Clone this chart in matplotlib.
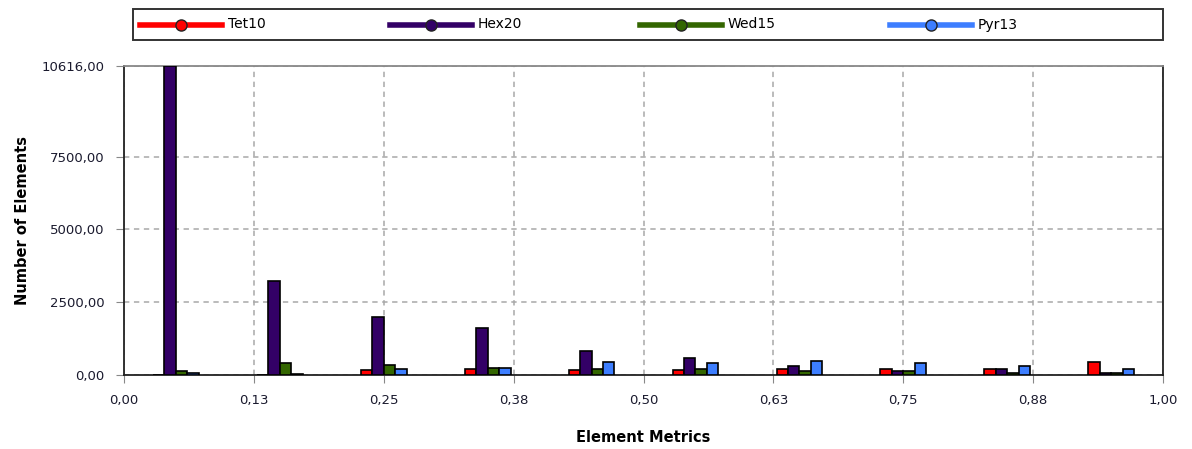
import numpy as np
import matplotlib.pyplot as plt
from matplotlib.lines import Line2D
from matplotlib.patches import Rectangle
from matplotlib.ticker import FixedLocator, FuncFormatter

# element quality histogram, 10 bins over [0, 1]
bin_centers = [0.05, 0.15, 0.25, 0.35, 0.45, 0.55, 0.65, 0.75, 0.85, 0.95]
tet10 = [0, 0, 160, 200, 160, 160, 200, 200, 200, 435]
hex20 = [10616, 3230, 2000, 1600, 825, 595, 320, 150, 200, 50]
wed15 = [150, 420, 340, 250, 200, 195, 140, 140, 50, 50]
pyr13 = [50, 40, 195, 250, 435, 420, 490, 420, 310, 200]

series = [("Tet10", tet10, "#ff0000"),
          ("Hex20", hex20, "#330066"),
          ("Wed15", wed15, "#336600"),
          ("Pyr13", pyr13, "#3d7eff")]

y_ticks = [0, 2500, 5000, 7500, 10616]
x_ticks = [0, 0.125, 0.25, 0.375, 0.5, 0.625, 0.75, 0.875, 1.0]

plt.rcParams['font.family'] = ['DejaVu Sans']
W, H = 1192, 449
fig = plt.figure(figsize=(W / 100, H / 100), dpi=100)
ax = fig.add_axes([0.104, 0.165, 0.8717, 0.688])

w = 0.011
offsets = [-1.5, -0.5, 0.5, 1.5]
x = np.array(bin_centers)
for (name, vals, col), off in zip(series, offsets):
    ax.bar(x + off * w, vals, width=w, color=col, edgecolor='black',
           linewidth=1.2, zorder=3)

ax.set_xlim(0, 1)
ax.set_ylim(0, 10616)
ax.xaxis.set_major_locator(FixedLocator(x_ticks))
ax.yaxis.set_major_locator(FixedLocator(y_ticks))
fmt = FuncFormatter(lambda v, p: ("%.2f" % (round(v + 1e-9, 2))).replace(".", ","))
ax.xaxis.set_major_formatter(fmt)
ax.yaxis.set_major_formatter(fmt)
ax.tick_params(direction='out', length=6, color='#888888', labelsize=9.5,
               labelcolor='#1a1a2e', pad=8)
ax.grid(True, linestyle=(0, (3.5, 3)), color='#a8a8a8', linewidth=1.1, zorder=0)

for s in ['left', 'bottom', 'right']:
    ax.spines[s].set_color('#222222')
    ax.spines[s].set_linewidth(1.3)
ax.spines['top'].set_color('#888888')
ax.spines['top'].set_linewidth(1.3)

ax.set_xlabel("Element Metrics", fontsize=10.5, fontweight='bold', labelpad=16)
ax.set_ylabel("Number of Elements", fontsize=10.5, fontweight='bold', labelpad=8)

# legend strip across the top, one evenly spaced entry per series
fig.patches.append(Rectangle((133 / W, 1 - 40 / H), 1030 / W, 31 / H,
                             transform=fig.transFigure, fill=False,
                             edgecolor='#333333', linewidth=1.4))
ly = 1 - 24.5 / H
for i, (name, vals, col) in enumerate(series):
    x0 = 140 + i * 250
    fig.lines.append(Line2D([x0 / W, (x0 + 82) / W], [ly, ly], color=col, lw=4,
                            transform=fig.transFigure))
    fig.lines.append(Line2D([(x0 + 41) / W], [ly], marker='o', markersize=8,
                            markerfacecolor=col, markeredgecolor='#222222',
                            transform=fig.transFigure))
    fig.text((x0 + 88) / W, ly, name, fontsize=10, va='center', ha='left')

fig.savefig("out.png", dpi=100)
